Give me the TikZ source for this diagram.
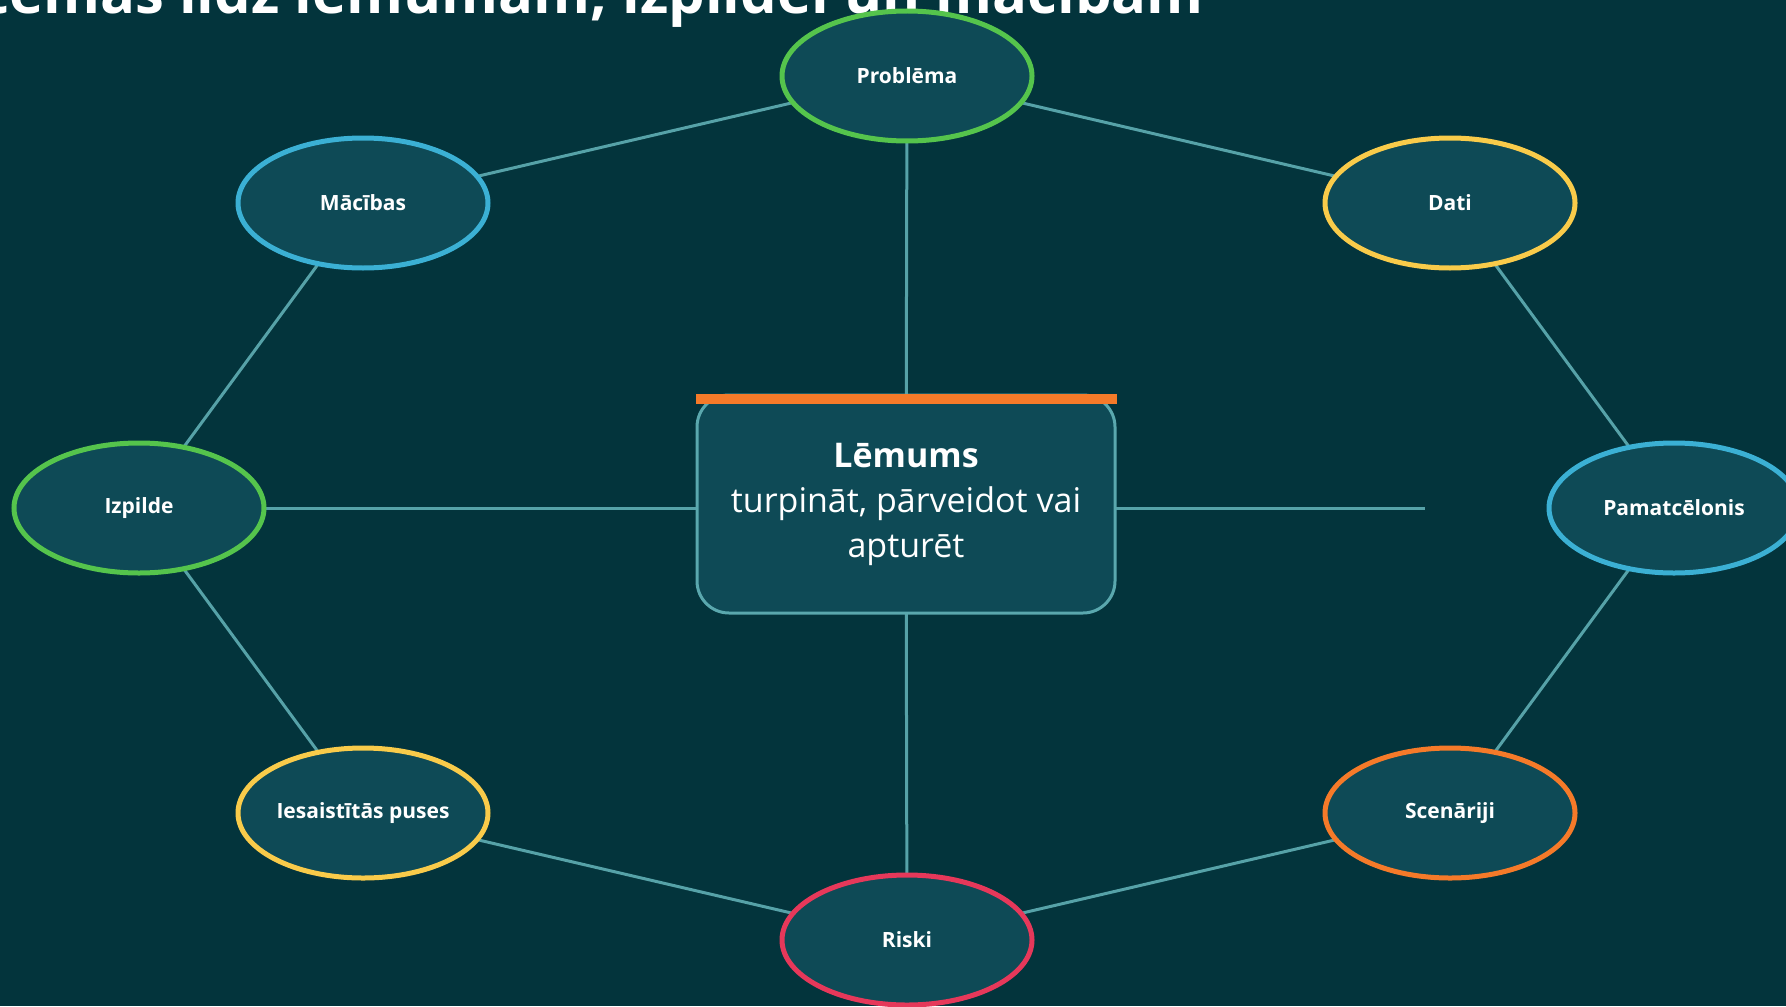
\documentclass[tikz,border=0pt]{standalone}
\usepackage{fontspec}
\setmainfont{Open Sans}
\usetikzlibrary{shapes.geometric,backgrounds}
\definecolor{bgteal}{HTML}{03343C}
\definecolor{nodefill}{HTML}{0E4A56}
\definecolor{linkteal}{HTML}{56A2A8}
\definecolor{boxedge}{HTML}{5AA8AE}
\definecolor{ringgreen}{HTML}{55C44C}
\definecolor{ringblue}{HTML}{3BB0D4}
\definecolor{ringyellow}{HTML}{F9CB4A}
\definecolor{ringorange}{HTML}{F57A29}
\definecolor{ringred}{HTML}{E6385A}
\begin{document}
\begin{tikzpicture}[x=0.5pt, y=-0.5pt,
  topic/.style={draw, ellipse, fill=nodefill, line width=2.5pt, minimum width=125pt, minimum height=65pt, inner sep=0pt, text=white, font=\fontsize{10.5}{12}\selectfont\bfseries},
  link/.style={draw=linkteal, line width=1.5pt}
]
  \useasboundingbox (0,0) rectangle (1786,1006);
  \begin{scope}[on background layer]
    \fill[bgteal] (0,0) rectangle (1786,1006);
  \end{scope}
  \node[anchor=base east, text=white, font=\fontsize{29}{33}\selectfont\bfseries] (title) at (1211,14) {temas līdz lēmumam, izpildei un mācībām};

  \node (lemums) at (906,504) [draw=boxedge, fill=nodefill, rounded corners=16pt, line width=1.5pt, minimum width=209pt, minimum height=109pt, align=center, text=white, font=\fontsize{17}{22.5}\selectfont] {\textbf{Lēmums}\\turpināt, pārveidot vai\\apturēt};
  \fill[ringorange] (lemums.north west) rectangle ([yshift=-5pt]lemums.north east);

  \node (problema)  at (907,76)   [topic, draw=ringgreen]  {Problēma};
  \node (macibas)   at (363,203)  [topic, draw=ringblue]   {Mācības};
  \node (dati)      at (1450,203) [topic, draw=ringyellow] {Dati};
  \node (izpilde)   at (139,508)  [topic, draw=ringgreen]  {Izpilde};
  \node (pamat)     at (1674,508) [topic, draw=ringblue]   {Pamatcēlonis};
  \node (puses)     at (363,813)  [topic, draw=ringyellow] {Iesaistītās puses};
  \node (scenariji) at (1450,813) [topic, draw=ringorange] {Scenāriji};
  \node (riski)     at (907,940)  [topic, draw=ringred]    {Riski};
  \coordinate (stub) at (1425,508);

  \begin{scope}[on background layer]
    \foreach \i/\j in {problema/macibas,problema/dati,macibas/izpilde,dati/pamat,izpilde/puses,pamat/scenariji,puses/riski,scenariji/riski,problema/lemums,riski/lemums}
      \draw[link] (\i.center) -- (\j.center);
    \draw[link] (izpilde.center) -- (izpilde.center -| lemums.center);
    \draw[link] (stub -| lemums.center) -- (stub);
  \end{scope}
\end{tikzpicture}
\end{document}
